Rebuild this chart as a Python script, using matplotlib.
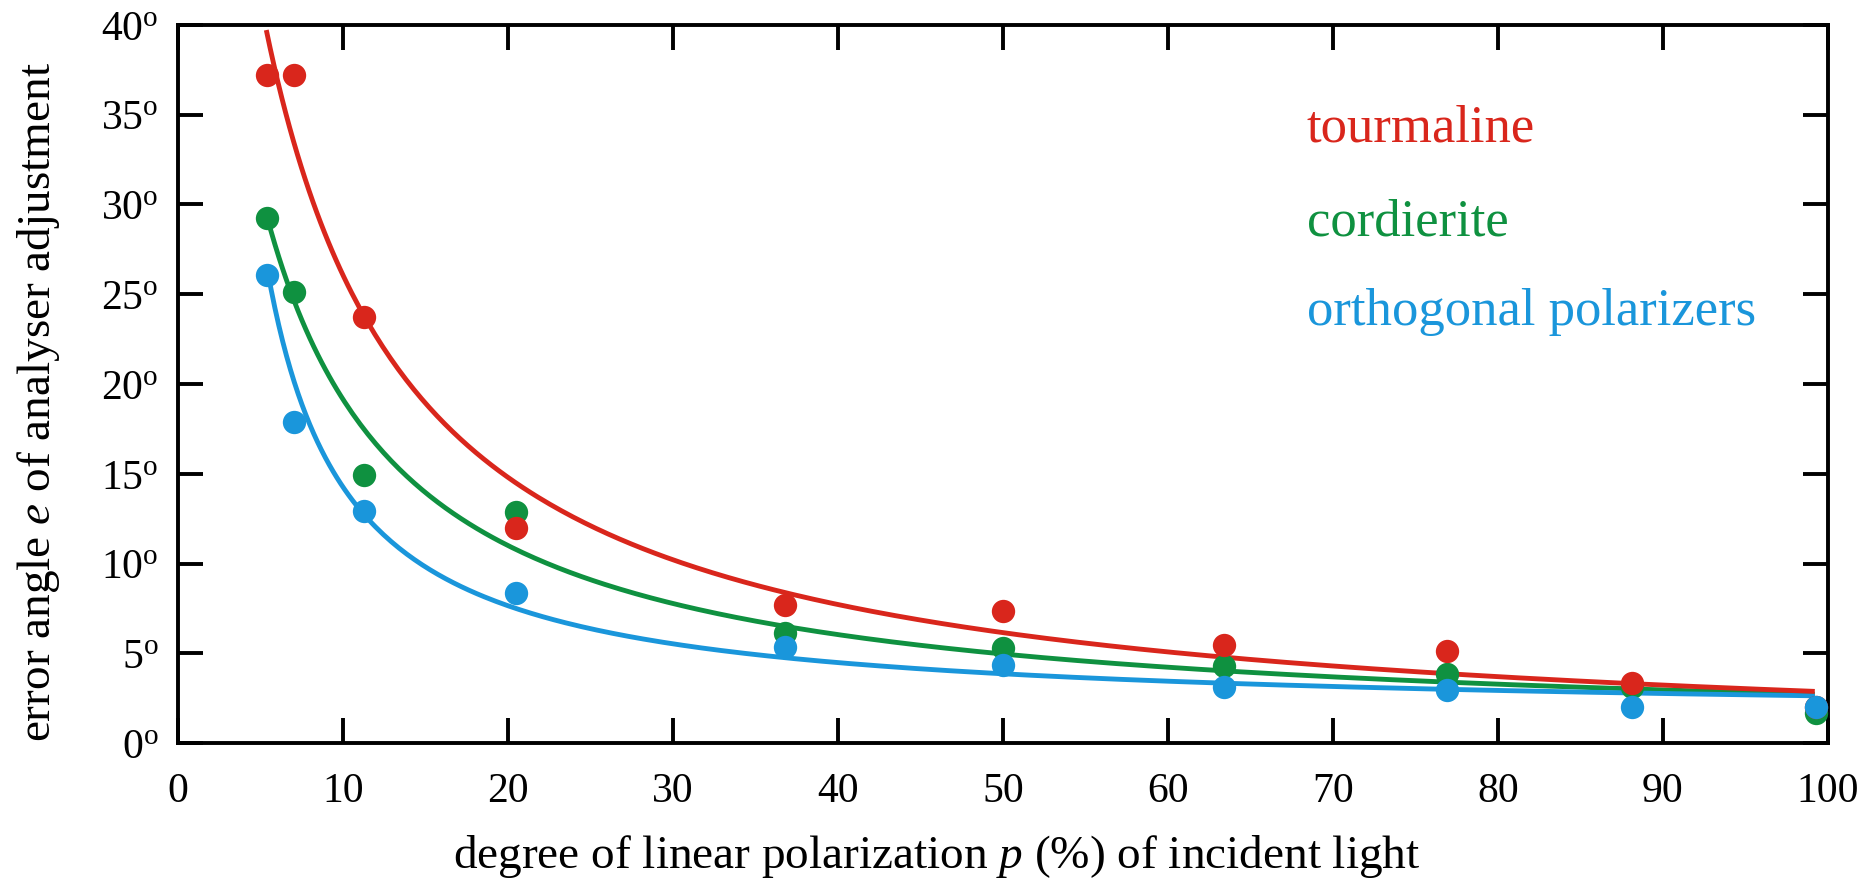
import numpy as np
import matplotlib
matplotlib.use("Agg")
import matplotlib.pyplot as plt

plt.rcParams['font.family'] = ['Liberation Serif', 'DejaVu Serif']
plt.rcParams['mathtext.fontset'] = 'custom'
plt.rcParams['mathtext.rm'] = 'Liberation Serif'
plt.rcParams['mathtext.it'] = 'Liberation Serif:italic'

# measured degree of linear polarization p (%)
p_meas = [5.4, 7.0, 11.3, 20.5, 36.8, 50.0, 63.4, 76.9, 88.1, 99.3]

# measured error angle e (degrees)
e_tourmaline = [37.2, 37.2, 23.75, 12.0, 7.7, 7.37, 5.46, 5.14, 3.33, 2.0]
e_cordierite = [29.25, 25.1, 14.93, 12.89, 6.11, 5.27, 4.29, 3.84, 3.1, 1.65]
e_orthogonal = [26.07, 17.9, 12.92, 8.34, 5.33, 4.35, 3.14, 2.95, 2.02, 1.99]

# fitted curves e(p) = a / (p + c) + d
fit_tourmaline = (368.2, 3.76, -0.7)
fit_cordierite = (247.6, 3.14, 0.3)
fit_orthogonal = (121.5, -0.55, 1.4)
fit_start = [5.35, 5.4, 5.4]
fit_end = 99.2

labels = ['tourmaline', 'cordierite', 'orthogonal polarizers']
colors = ['#d9261c', '#0f9140', '#1a96db']

x_ticks = [0, 10, 20, 30, 40, 50, 60, 70, 80, 90, 100]
y_ticks = [0, 5, 10, 15, 20, 25, 30, 35, 40]

fig = plt.figure(figsize=(18.76, 8.89), dpi=100)
ax = fig.add_axes([0.0949, 0.1642, 0.8795, 0.8077])

fits = [fit_tourmaline, fit_cordierite, fit_orthogonal]
values = [e_tourmaline, e_cordierite, e_orthogonal]
line_z = [4, 2, 3]
point_z = [6, 5, 7]

for (a, c, d), col, x0, z in zip(fits, colors, fit_start, line_z):
    xs = np.linspace(x0, fit_end, 400)
    ax.plot(xs, a / (xs + c) + d, color=col, lw=3.5, zorder=z,
            solid_capstyle='butt')
for vals, col, z in zip(values, colors, point_z):
    ax.plot(p_meas, vals, 'o', color=col, ms=16.8, mec='none', zorder=z)

ax.set_xlim(0, 100)
ax.set_ylim(0, 40)
ax.set_xticks(x_ticks)
ax.set_yticks(y_ticks)
ax.set_xticklabels([str(t) for t in x_ticks])
ax.set_yticklabels([f'{t}' + r'$^{\mathrm{o}}$' for t in y_ticks])

for s in ax.spines.values():
    s.set_linewidth(2.8)
ax.tick_params(direction='in', length=18, width=2.8, top=True, right=True,
               labelsize=30)
ax.tick_params(axis='x', pad=21)
ax.tick_params(axis='y', pad=14)

ax.set_xlabel(r'degree of linear polarization $\mathit{p}$ (%) of incident light',
              fontsize=34)
ax.xaxis.set_label_coords(0.46, -0.125)
ax.set_ylabel(r'error angle $\mathit{e}$ of analyser adjustment', fontsize=34)
ax.yaxis.set_label_coords(-0.0705, 0.475)

label_y = [33.5, 28.3, 23.3]
for txt, col, yy in zip(labels, colors, label_y):
    ax.text(68.4, yy, txt, color=col, fontsize=38, ha='left', va='baseline')

fig.savefig('out.png', dpi=100)
